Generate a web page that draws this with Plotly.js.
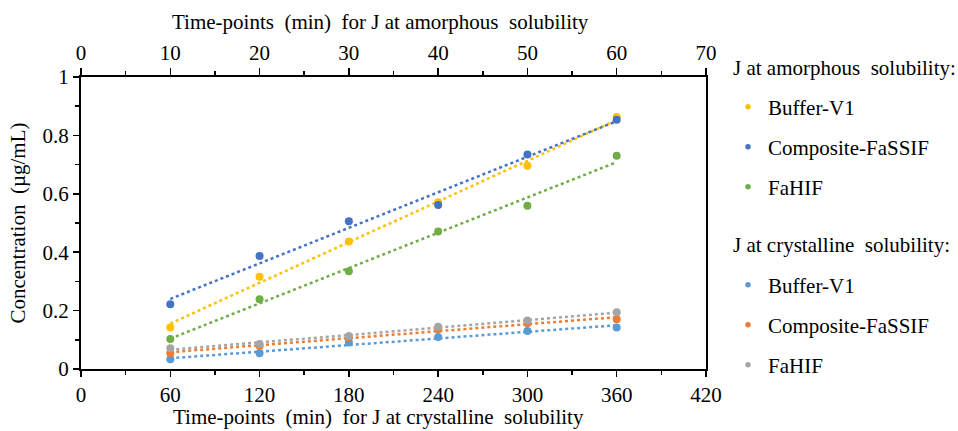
<!DOCTYPE html>
<html>
<head>
<meta charset="utf-8">
<script src="https://cdn.plot.ly/plotly-3.0.1.min.js"></script>
<style>html,body{margin:0;padding:0;background:#fff;}#chart{width:958px;height:431px;}</style>
</head>
<body>
<div id="chart"></div>
<script>
// Amorphous-solubility time points (top axis, min)
const timeAmorphous = [10, 20, 30, 40, 50, 60];
// Crystalline-solubility time points (bottom axis, min)
const timeCrystalline = [60, 120, 180, 240, 300, 360];

// Concentrations (µg/mL)
const amBuffer = [0.142, 0.316, 0.437, 0.571, 0.696, 0.863];
const amComposite = [0.222, 0.387, 0.506, 0.562, 0.735, 0.854];
const amFaHIF = [0.103, 0.239, 0.335, 0.471, 0.559, 0.730];
const crBuffer = [0.033, 0.054, 0.091, 0.110, 0.130, 0.142];
const crComposite = [0.054, 0.079, 0.109, 0.136, 0.157, 0.170];
const crFaHIF = [0.071, 0.086, 0.113, 0.145, 0.166, 0.194];

const seriesNames = ["Buffer-V1", "Composite-FaSSIF", "FaHIF"];
const groupTitles = ["J at amorphous  solubility:", "J at crystalline  solubility:"];
const topAxisTitle = "Time-points  (min)  for J at amorphous  solubility";
const bottomAxisTitle = "Time-points  (min)  for J at crystalline  solubility";
const yAxisTitle = "Concentration  (µg/mL)";
const xTicksBottom = [0, 60, 120, 180, 240, 300, 360, 420];
const xTicksTop = [0, 10, 20, 30, 40, 50, 60, 70];
const yTicks = [0, 0.2, 0.4, 0.6, 0.8, 1];
const yTickLabels = ["0", "0.2", "0.4", "0.6", "0.8", "1"];

const FONT = 'Liberation Serif, Times New Roman, serif';
const FS = 21;

function fit(x, y) {
  const n = x.length;
  const mx = x.reduce((a, b) => a + b, 0) / n;
  const my = y.reduce((a, b) => a + b, 0) / n;
  let sxy = 0, sxx = 0;
  for (let i = 0; i < n; i++) { sxy += (x[i] - mx) * (y[i] - my); sxx += (x[i] - mx) ** 2; }
  const m = sxy / sxx, b = my - m * mx;
  const xs = [x[0], x[n - 1]];
  return { x: xs, y: xs.map(v => m * v + b) };
}

const groups = [
  { x: timeAmorphous, axis: 'x2', data: [amBuffer, amComposite, amFaHIF], colors: ['#FFC000', '#4472C4', '#70AD47'] },
  { x: timeCrystalline, axis: 'x', data: [crBuffer, crComposite, crFaHIF], colors: ['#5B9BD5', '#ED7D31', '#A5A5A5'] }
];

const traces = [];
groups.forEach((g) => {
  g.data.forEach((vals, i) => {
    const t = fit(g.x, vals);
    traces.push({
      x: t.x, y: t.y, xaxis: g.axis, yaxis: 'y', mode: 'lines', type: 'scatter',
      line: { color: g.colors[i], width: 2.5, dash: 'dot' }, showlegend: false, hoverinfo: 'skip'
    });
  });
});
let legIdx = 0;
groups.forEach((g) => {
  g.data.forEach((vals, i) => {
    legIdx++;
    traces.push({
      x: g.x, y: vals, xaxis: g.axis, yaxis: 'y', mode: 'markers', type: 'scatter',
      name: seriesNames[i], marker: { color: g.colors[i], size: 8 }, showlegend: false
    });
    // legend-only entry with the smaller legend dot
    traces.push({
      x: [null], y: [null], xaxis: g.axis, yaxis: 'y', mode: 'markers', type: 'scatter',
      name: seriesNames[i], marker: { color: g.colors[i], size: 5.5 }, showlegend: true,
      legend: legIdx === 1 ? 'legend' : 'legend' + legIdx
    });
  });
});

const plotTop = 77, plotBottom = 369, plotLeft = 81, plotRight = 706;
const H = plotBottom - plotTop, W = plotRight - plotLeft;
function py(p) { return (plotBottom - p) / H; }
function px(p) { return (p - plotLeft) / W; }

const itemY = [107, 147, 187, 285, 325, 365];
const layout = {
  width: 958, height: 431,
  margin: { l: plotLeft, r: 958 - plotRight, t: plotTop, b: 431 - plotBottom, pad: 0 },
  paper_bgcolor: '#fff', plot_bgcolor: '#fff',
  font: { family: FONT, size: FS, color: '#000' },
  xaxis: {
    range: [0, 420], tickvals: xTicksBottom, ticks: 'outside', ticklen: 6, tickwidth: 1.5, tickcolor: '#000',
    minor: { dtick: 30, ticks: 'outside', ticklen: 4, tickwidth: 1.5, tickcolor: '#000' },
    showline: true, linecolor: '#000', linewidth: 2, showgrid: false, zeroline: false,
    tickfont: { family: FONT, size: FS }
  },
  xaxis2: {
    range: [0, 70], tickvals: xTicksTop, overlaying: 'x', side: 'top', anchor: 'y',
    ticks: 'outside', ticklen: 7, tickwidth: 1.5, tickcolor: '#000',
    minor: { dtick: 5, ticks: 'outside', ticklen: 4, tickwidth: 1.5, tickcolor: '#000' },
    showline: true, linecolor: '#000', linewidth: 2, showgrid: false, zeroline: false,
    tickfont: { family: FONT, size: FS }
  },
  yaxis: {
    range: [0, 1], tickvals: yTicks, ticktext: yTickLabels, ticks: 'outside', ticklen: 6, tickwidth: 1.5, tickcolor: '#000',
    minor: { dtick: 0.1, ticks: 'outside', ticklen: 4, tickwidth: 1.5, tickcolor: '#000' },
    showline: true, mirror: true, linecolor: '#000', linewidth: 2, showgrid: false, zeroline: false,
    title: { text: yAxisTitle, font: { family: FONT, size: FS }, standoff: 11 },
    tickfont: { family: FONT, size: FS }
  },
  annotations: [
    { text: topAxisTitle, xref: 'paper', yref: 'paper', x: px(380), y: py(22), xanchor: 'center', yanchor: 'middle', showarrow: false, font: { family: FONT, size: FS } },
    { text: bottomAxisTitle, xref: 'paper', yref: 'paper', x: px(378), y: py(417), xanchor: 'center', yanchor: 'middle', showarrow: false, font: { family: FONT, size: FS } },
    { text: groupTitles[0], xref: 'paper', yref: 'paper', x: px(731), y: py(68), xanchor: 'left', yanchor: 'middle', showarrow: false, font: { family: FONT, size: FS } },
    { text: groupTitles[1], xref: 'paper', yref: 'paper', x: px(731), y: py(245), xanchor: 'left', yanchor: 'middle', showarrow: false, font: { family: FONT, size: FS } }
  ],
  showlegend: true
};
itemY.forEach((yy, k) => {
  const key = k === 0 ? 'legend' : 'legend' + (k + 1);
  layout[key] = {
    x: px(728), y: py(yy), xanchor: 'left', yanchor: 'middle', xref: 'paper', yref: 'paper',
    bgcolor: 'rgba(0,0,0,0)', borderwidth: 0, font: { family: FONT, size: FS, color: '#000' },
    itemsizing: 'trace'
  };
});

Plotly.newPlot('chart', traces, layout, { displayModeBar: false, staticPlot: true });
</script>
</body>
</html>
